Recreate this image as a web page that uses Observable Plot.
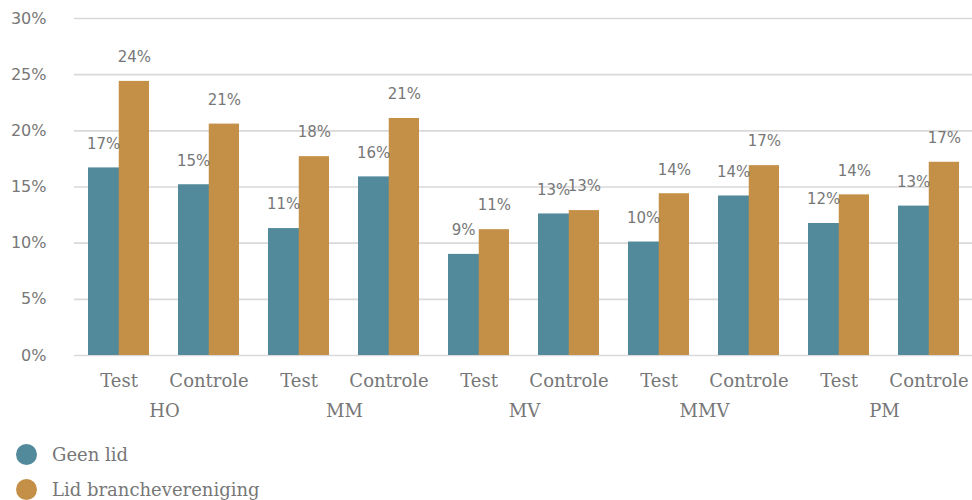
<!DOCTYPE html>
<html>
<head>
<meta charset="utf-8">
<script src="https://cdn.jsdelivr.net/npm/d3@7"></script>
<script src="https://cdn.jsdelivr.net/npm/@observablehq/plot@0.6"></script>
<style>
  html, body { margin: 0; padding: 0; background: #fff; }
  #chart { width: 972px; height: 500px; overflow: hidden; position: relative; }
  #chart svg { max-width: none !important; display: block; }
  .legend { font-family: "DejaVu Serif", serif; font-size: 18px; color: #777; padding-top: 7px; }
  .legend .row { display: flex; align-items: center; height: 35px; padding-left: 16px; }
  .legend .dot { width: 21px; height: 21px; border-radius: 50%; margin-right: 15px; }
</style>
</head>
<body>
<div id="chart"></div>
<script>
// ---- data ----
const groups = ["HO", "MM", "MV", "MMV", "PM"];
const conditions = ["Test", "Controle"];
const seriesNames = ["Geen lid", "Lid branchevereniging"];
const seriesColors = ["#528A9B", "#C48F46"];
// order: HO Test, HO Controle, MM Test, MM Controle, ...
const geenLid = [16.7, 15.2, 11.3, 15.9, 9.0, 12.6, 10.1, 14.2, 11.75, 13.3];
const lidBranche = [24.4, 20.6, 17.7, 21.1, 11.2, 12.9, 14.4, 16.9, 14.3, 17.2];
const yTicks = [0, 5, 10, 15, 20, 25, 30];

const rows = [];
groups.forEach((g, gi) => {
  conditions.forEach((c, ci) => {
    const i = gi * 2 + ci;
    rows.push({group: g, cond: c, series: seriesNames[0], value: geenLid[i]});
    rows.push({group: g, cond: c, series: seriesNames[1], value: lidBranche[i]});
  });
});
const s0 = rows.filter(d => d.series === seriesNames[0]);
const s1 = rows.filter(d => d.series === seriesNames[1]);

const half = 30.75;   // half of the x band width (px)
const labelFont = "DejaVu Sans, sans-serif";
const serifFont = "DejaVu Serif, serif";

const chart = Plot.plot({
  width: 976,
  height: 430,
  marginLeft: 72,
  marginRight: 0,
  marginTop: 18,
  marginBottom: 75,
  style: {background: "#fff", color: "#777", fontSize: "15px", maxWidth: "none"},
  fx: {domain: groups, padding: 0, label: null},
  x: {domain: conditions, paddingInner: 0.32, paddingOuter: 0.16, label: null},
  y: {domain: [0, 30], label: null},
  color: {domain: seriesNames, range: seriesColors},
  marks: [
    Plot.gridY(yTicks, {stroke: "#d9d9d9", strokeOpacity: 1, strokeWidth: 1.6}),
    Plot.axisY(yTicks, {tickSize: 0, tickPadding: 28, tickFormat: d => d + "%", fontSize: 16, fontFamily: labelFont, fill: "#777", label: null}),
    Plot.axisX({anchor: "bottom", tickSize: 0, tickPadding: 19, fontSize: 18, fontFamily: serifFont, fill: "#777", label: null}),
    Plot.axisFx({anchor: "bottom", tickSize: 0, tickPadding: 49, fontSize: 18, fontFamily: serifFont, fill: "#777", label: null}),
    Plot.barY(s0, {fx: "group", x: "cond", y: "value", fill: "series", insetRight: half - 1}),
    Plot.barY(s1, {fx: "group", x: "cond", y: "value", fill: "series", insetLeft: half}),
    Plot.text(s0, {fx: "group", x: "cond", y: "value", text: d => Math.round(d.value) + "%", dx: -half / 2, dy: -24, fontSize: 15, fontFamily: labelFont, fill: "#777"}),
    Plot.text(s1, {fx: "group", x: "cond", y: "value", text: d => Math.round(d.value) + "%", dx: half / 2, dy: -24, fontSize: 15, fontFamily: labelFont, fill: "#777"})
  ]
});

const container = document.getElementById("chart");
container.appendChild(chart);

const legend = document.createElement("div");
legend.className = "legend";
seriesNames.forEach((name, i) => {
  const row = document.createElement("div");
  row.className = "row";
  const dot = document.createElement("span");
  dot.className = "dot";
  dot.style.background = seriesColors[i];
  const label = document.createElement("span");
  label.textContent = name;
  row.appendChild(dot);
  row.appendChild(label);
  legend.appendChild(row);
});
container.appendChild(legend);
</script>
</body>
</html>
